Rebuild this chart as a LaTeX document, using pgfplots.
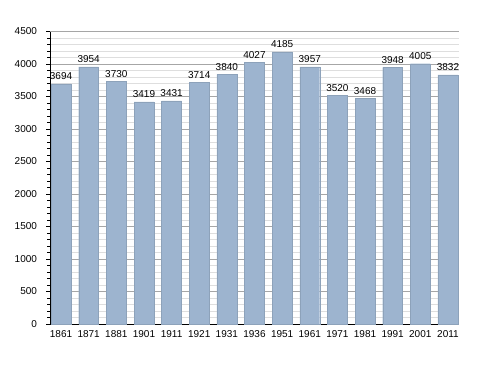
\documentclass[border=0pt]{standalone}
\usepackage{pgfplots}
\pgfplotsset{compat=1.18}
\usepackage{fontspec}
\setmainfont{Liberation Sans}
\definecolor{barfill}{HTML}{9DB4CF}
\begin{document}
\begin{tikzpicture}[x=1pt,y=1pt]
\useasboundingbox (0,0) rectangle (488,373);
\begin{axis}[
  at={(50pt,49pt)}, anchor=south west,
  scale only axis, width=409pt, height=292.5pt,
  xmin=-0.4, xmax=14.4, ymin=0, ymax=4500,
  axis x line=bottom, axis y line=left,
  axis line style={-, black, line width=0.8pt},
  xtick={0,...,14},
  xticklabels={1861,1871,1881,1901,1911,1921,1931,1936,1951,1961,1971,1981,1991,2001,2011},
  x tick style={draw=none},
  ytick={0,500,...,4500},
  minor y tick num=4,
  tick align=outside,
  major tick length=3.5pt, minor tick length=2.5pt,
  y tick style={black, line width=0.6pt},
  ymajorgrids, yminorgrids,
  major grid style={line width=0.6pt, color=black!35},
  minor grid style={line width=0.5pt, color=black!13},
  tick label style={font=\fontsize{10}{12}\selectfont, black},
  /pgf/number format/assume math mode=true,
  /pgf/number format/1000 sep={},
  yticklabel style={xshift=-6pt},
  xticklabel style={yshift=1pt},
  nodes near coords,
  every node near coord/.append style={font=\fontsize{10}{12}\selectfont, black, yshift=0.5pt},
  clip=false,
]
\addplot[ybar, bar width=0.72, fill=barfill, draw=barfill!90!black, line width=0.3pt] coordinates {
(0,3694) (1,3954) (2,3730) (3,3419) (4,3431) (5,3714) (6,3840) (7,4027) (8,4185) (9,3957) (10,3520) (11,3468) (12,3948) (13,4005) (14,3832)
};
\end{axis}
\end{tikzpicture}
\end{document}
